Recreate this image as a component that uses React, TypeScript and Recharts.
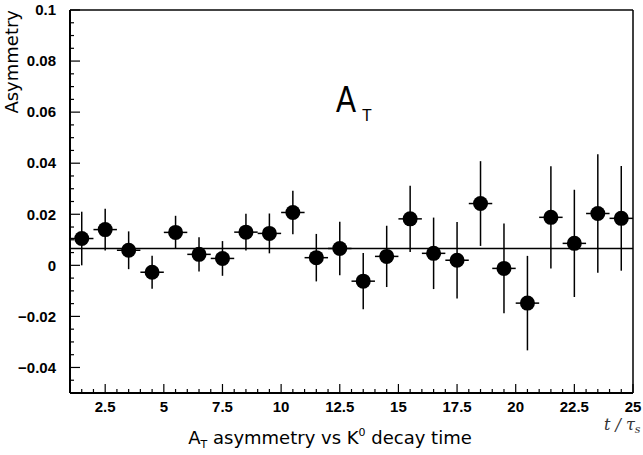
import React from 'react';
import { ScatterChart, Scatter, XAxis, YAxis, ErrorBar, ReferenceLine } from 'recharts';

// decay time bins (t / tau_s), centre of each bin
const binCenters = [1.5, 2.5, 3.5, 4.5, 5.5, 6.5, 7.5, 8.5, 9.5, 10.5, 11.5, 12.5, 13.5, 14.5, 15.5, 16.5, 17.5, 18.5, 19.5, 20.5, 21.5, 22.5, 23.5, 24.5];
const asymValues = [0.0105, 0.014, 0.0059, -0.0027, 0.0129, 0.0043, 0.0027, 0.013, 0.0125, 0.0207, 0.003, 0.0066, -0.0062, 0.0035, 0.0182, 0.0047, 0.002, 0.0242, -0.0012, -0.0148, 0.0188, 0.0086, 0.0203, 0.0184];
const asymErrors = [0.0105, 0.0082, 0.0074, 0.0065, 0.0065, 0.0067, 0.0068, 0.0072, 0.0078, 0.0085, 0.0093, 0.0105, 0.011, 0.012, 0.013, 0.014, 0.015, 0.0166, 0.0176, 0.0185, 0.02, 0.021, 0.0232, 0.0205];
const binHalfWidth = 0.5;
const fitLevel = 0.0066;

const xMajorTicks = [2.5, 5, 7.5, 10, 12.5, 15, 17.5, 20, 22.5, 25];
const yMajorTicks = [-0.04, -0.02, 0, 0.02, 0.04, 0.06, 0.08, 0.1];

const xAllTicks: number[] = [];
for (let i = 2; i <= 50; i++) xAllTicks.push(i * 0.5);
const yAllTicks: number[] = [];
for (let i = -10; i <= 20; i++) yAllTicks.push(Math.round(i * 5) / 1000);

const data = binCenters.map((t, i) => ({ t, a: asymValues[i], ea: asymErrors[i], et: binHalfWidth }));

const isMajor = (v: number, list: number[]) => list.some((m) => Math.abs(m - v) < 1e-9);
const fmtY = (v: number) => (v === 0 ? '0' : v < 0 ? '\u2212' + String(Math.abs(v)) : String(v));

const labelFont = { fontFamily: 'Liberation Sans, Arial, sans-serif', fontWeight: 700, fontSize: 15, fill: '#000' };

const XTick = (props: any) => {
  const { x, y, payload } = props;
  const major = isMajor(payload.value, xMajorTicks);
  return (
    <g>
      <line x1={x} x2={x} y1={y} y2={y - (major ? 9 : 4)} stroke="#000" strokeWidth={1.2} />
      {major && (
        <text x={x} y={y + 19} textAnchor="middle" {...labelFont}>{payload.value}</text>
      )}
    </g>
  );
};

const YTick = (props: any) => {
  const { x, y, payload } = props;
  const major = isMajor(payload.value, yMajorTicks);
  return (
    <g>
      <line x1={x} x2={x + (major ? 10 : 4)} y1={y} y2={y} stroke="#000" strokeWidth={1.2} />
      {major && (
        <text x={x - 14} y={y} dy="0.35em" textAnchor="end" {...labelFont}>{fmtY(payload.value)}</text>
      )}
    </g>
  );
};

const Dot = (props: any) => <circle cx={props.cx} cy={props.cy} r={7.5} fill="#000" />;

export default function App() {
  return (
    <div style={{ position: 'absolute', left: 0, top: 0, width: 643, height: 455, background: '#fff' }}>
      <ScatterChart width={643} height={455} margin={{ top: 0, right: 0, bottom: 0, left: 0 }}>
        <XAxis
          type="number"
          dataKey="t"
          domain={[1, 25]}
          ticks={xAllTicks}
          interval={0}
          tick={XTick}
          tickSize={0}
          tickMargin={0}
          height={62}
          axisLine={{ stroke: '#000', strokeWidth: 2 }}
          tickLine={false}
          allowDataOverflow
        />
        <XAxis xAxisId="top" orientation="top" type="number" domain={[1, 25]} height={10} tick={false} tickLine={false} axisLine={{ stroke: '#444', strokeWidth: 2 }} />
        <YAxis
          type="number"
          dataKey="a"
          domain={[-0.05, 0.1]}
          ticks={yAllTicks}
          interval={0}
          tick={YTick}
          tickSize={0}
          tickMargin={0}
          width={70}
          axisLine={{ stroke: '#000', strokeWidth: 2 }}
          tickLine={false}
          allowDataOverflow
        />
        <YAxis yAxisId="right" orientation="right" type="number" domain={[-0.05, 0.1]} width={10} tick={false} tickLine={false} axisLine={{ stroke: '#000', strokeWidth: 1.5 }} />
        <ReferenceLine y={fitLevel} stroke="#000" strokeWidth={1.5} />
        <Scatter data={data} shape={Dot} isAnimationActive={false}>
          <ErrorBar dataKey="ea" direction="y" width={0} stroke="#000" strokeWidth={1.5} />
          <ErrorBar dataKey="et" direction="x" width={0} stroke="#000" strokeWidth={1.5} />
        </Scatter>
      </ScatterChart>
      <svg width={643} height={455} style={{ position: 'absolute', left: 0, top: 0, pointerEvents: 'none' }}>
        <text transform="translate(18,10) rotate(-90)" textAnchor="end" fontFamily="DejaVu Sans, sans-serif" fontSize={18} fill="#000">Asymmetry</text>
        <text x={336} y={112} fontFamily="Liberation Sans, sans-serif" fontSize={36} textLength={20} lengthAdjust="spacingAndGlyphs" fill="#000">A</text>
        <text x={362} y={121} fontFamily="Liberation Sans, sans-serif" fontSize={16} fill="#000">T</text>
        <text x={330} y={444} textAnchor="middle" fontFamily="DejaVu Sans, sans-serif" fontSize={18} fill="#000">
          A<tspan fontSize={11} dy={4}>T</tspan><tspan dy={-4}> asymmetry vs K</tspan><tspan fontSize={11} dy={-8}>0</tspan><tspan dy={8}> decay time</tspan>
        </text>
        <text x={604} y={430} fontFamily="DejaVu Serif, serif" fontStyle="italic" fontSize={16} fill="#333">
          t / τ<tspan fontSize={11} dy={3}>s</tspan>
        </text>
      </svg>
    </div>
  );
}
